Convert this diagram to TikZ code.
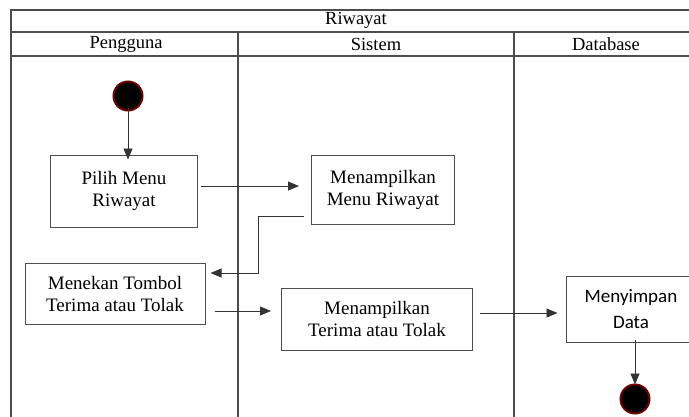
\documentclass[tikz,border=0pt]{standalone}
\usepackage{fontspec}
\setmainfont{Liberation Serif}
\newfontfamily\sansbox{Carlito}
\usetikzlibrary{arrows.meta}
\begin{document}
\begin{tikzpicture}[x=1pt,y=-1pt,
  frame/.style={draw=black!70, line width=1.1pt},
  head/.style={font=\fontsize{18.5}{20}\selectfont, inner sep=0pt},
  act/.style={draw=black!70, line width=1pt, align=center, font=\fontsize{19}{22}\selectfont, inner sep=0pt},
  flow/.style={draw=black!80, line width=0.8pt, -{Triangle[length=11pt,width=9pt]}},
  dot/.style={circle, fill=black, draw={rgb,255:red,110;green,0;blue,0}, line width=2pt, minimum size=29pt, inner sep=0pt}
]
\useasboundingbox (0,0) rectangle (689,416);
\begin{scope}
\clip (0,0) rectangle (689,416);
% swimlane frame
\draw[frame] (11,430) -- (11,10) -- (700,10);
\draw[frame] (11,32) -- (700,32);
\draw[frame] (11,56) -- (700,56);
\draw[frame] (238,32) -- (238,430);
\draw[frame] (514,32) -- (514,430);
\node[head] (title) at (356,20) {Riwayat};
\node[head] (lane1) at (126,44) {Pengguna};
\node[head] (lane2) at (376,44) {Sistem};
\node[head] (lane3) at (606,44) {Database};

% activities
\node[dot] (start) at (128,96) {};
\node[act, minimum width=147pt, minimum height=72pt] (pilih) at (124,191) {Pilih Menu\\Riwayat};
\node[act, minimum width=143pt, minimum height=69pt] (tampil) at (383,190) {Menampilkan\\Menu Riwayat};
\node[act, minimum width=180pt, minimum height=61pt] (tekan) at (115,294) {Menekan Tombol\\Terima atau Tolak};
\node[act, minimum width=191pt, minimum height=62pt] (hasil) at (377,319) {Menampilkan\\Terima atau Tolak};
\node[act, minimum width=130pt, minimum height=66pt, font=\sansbox\fontsize{19}{26}\selectfont] (simpan) at (631,309) {Menyimpan\\Data};
\node[dot] (end) at (635,399) {};

% control flow
\draw[flow] ([yshift=4pt]start.south) -- ([yshift=-5pt]start |- pilih.north);
\draw[flow] ([xshift=3pt]pilih.east |- 0,186) -- ([xshift=-12pt]tampil.west |- 0,186);
\coordinate (k1) at (258,216);
\coordinate (k2) at (258,273);
\draw[flow] ([xshift=-7pt]tampil.west |- k1) -- (k1) -- (k2) -- ([xshift=5pt]tekan.east |- k2);
\draw[flow] ([xshift=9pt]tekan.east |- 0,311) -- ([xshift=-10pt]hasil.west |- 0,311);
\draw[flow] ([xshift=7pt]hasil.east |- 0,313) -- ([xshift=-8pt]simpan.west |- 0,313);
\draw[flow] ([yshift=3pt]simpan.south -| end) -- ([yshift=-1pt]end.north);
\end{scope}
\end{tikzpicture}
\end{document}
